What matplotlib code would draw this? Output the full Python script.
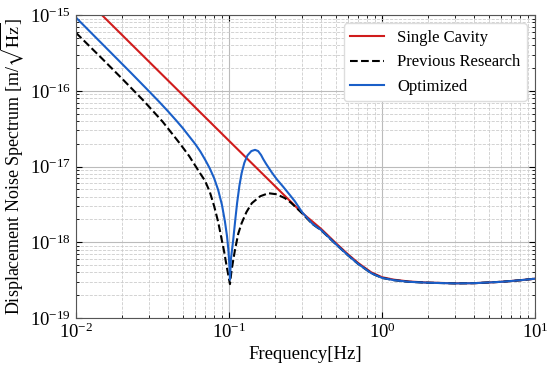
import matplotlib
matplotlib.use("Agg")
import matplotlib.pyplot as plt
from matplotlib.ticker import LogLocator, NullFormatter

plt.rcParams['font.family'] = ['Liberation Serif', 'DejaVu Serif']
plt.rcParams['mathtext.fontset'] = 'stix'

# values
f_single = [0.01, 0.0148, 0.03, 0.1, 0.2, 0.3, 0.4, 0.5, 0.6, 0.7, 0.85, 1.0,
            1.2, 1.5, 2.0, 3.0, 4.0, 6.0, 8.0, 10.0]
x_single = [2.19e-15, 1.0e-15, 2.43e-16, 2.19e-17, 5.5e-18, 2.45e-18, 1.5e-18,
            9.7e-19, 6.9e-19, 5.3e-19, 4.0e-19, 3.45e-19, 3.2e-19, 3.03e-19,
            2.93e-19, 2.87e-19, 2.88e-19, 3.0e-19, 3.15e-19, 3.3e-19]

f_prev = [0.01, 0.015, 0.02, 0.0275, 0.0369, 0.0479, 0.055, 0.0646, 0.0697,
          0.075, 0.08, 0.085, 0.0895, 0.093, 0.0966, 0.1015, 0.104, 0.1094,
          0.115, 0.121, 0.13, 0.141, 0.16, 0.181, 0.205, 0.232, 0.255, 0.277,
          0.3, 0.322, 0.35, 0.4, 0.5, 0.6, 0.7, 0.85, 1.0, 1.2, 1.5, 2.0, 3.0,
          4.0, 6.0, 8.0, 10.0]
x_prev = [5.85e-16, 2.6e-16, 1.45e-16, 7.5e-17, 3.9e-17, 2.0e-17, 1.37e-17,
          8.2e-18, 6.5e-18, 4.6e-18, 3.0e-18, 1.85e-18, 1.1e-18, 7.5e-19,
          4.8e-19, 2.8e-19, 4.3e-19, 7.9e-19, 1.3e-18, 1.79e-18, 2.5e-18,
          3.28e-18, 4.05e-18, 4.44e-18, 4.3e-18, 3.82e-18, 3.3e-18, 2.82e-18,
          2.42e-18, 2.08e-18, 1.75e-18, 1.44e-18, 9.4e-19, 6.7e-19, 5.15e-19,
          3.9e-19, 3.38e-19, 3.15e-19, 3.0e-19, 2.92e-19, 2.86e-19, 2.88e-19,
          3.0e-19, 3.15e-19, 3.3e-19]

f_opt = [0.01, 0.0225, 0.0294, 0.035, 0.04, 0.045, 0.05, 0.055, 0.06, 0.065,
         0.07, 0.075, 0.08, 0.085, 0.09, 0.094, 0.097, 0.099, 0.1005, 0.1015,
         0.103, 0.1067, 0.110, 0.113, 0.117, 0.121, 0.126, 0.132, 0.14, 0.148,
         0.155, 0.162, 0.1675, 0.175, 0.19, 0.205, 0.226, 0.25, 0.27, 0.3,
         0.322, 0.35, 0.4, 0.5, 0.6, 0.7, 0.85, 1.0, 1.2, 1.5, 2.0, 3.0, 4.0,
         6.0, 8.0, 10.0]
x_opt = [9.3e-16, 1.79e-16, 1.03e-16, 7.15e-17, 5.35e-17, 4.1e-17, 3.2e-17,
         2.5e-17, 2.0e-17, 1.58e-17, 1.22e-17, 9.4e-18, 7.0e-18, 4.9e-18,
         3.1e-18, 1.9e-18, 1.22e-18, 8.1e-19, 5.2e-19, 3.2e-19, 6.0e-19,
         1.1e-18, 2.0e-18, 3.3e-18, 5.6e-18, 8.2e-18, 1.12e-17, 1.4e-17,
         1.6e-17, 1.66e-17, 1.6e-17, 1.42e-17, 1.25e-17, 1.08e-17, 8.4e-18,
         6.8e-18, 5.4e-18, 4.2e-18, 3.45e-18, 2.5e-18, 2.13e-18, 1.76e-18,
         1.45e-18, 9.4e-19, 6.7e-19, 5.15e-19, 3.9e-19, 3.38e-19, 3.15e-19,
         3.0e-19, 2.92e-19, 2.86e-19, 2.88e-19, 3.0e-19, 3.15e-19, 3.3e-19]

fig = plt.figure(figsize=(5.5, 3.68), dpi=100)
ax = fig.add_axes([0.138, 0.136, 0.835, 0.823])

ax.loglog(f_single, x_single, color='#d01c1c', lw=1.5, label='Single Cavity')
ax.loglog(f_prev, x_prev, color='black', lw=1.5, ls='--', label='Previous Research')
ax.loglog(f_opt, x_opt, color='#1a5fc8', lw=1.5, label='Optimized')

ax.set_xlim(1e-2, 1e1)
ax.set_ylim(1e-19, 1e-15)
ax.set_xlabel('Frequency[Hz]', fontsize=13.5, labelpad=3)
ax.set_ylabel(r'Displacement Noise Spectrum [m/$\sqrt{\mathrm{Hz}}$]', fontsize=13)
ax.yaxis.set_label_coords(-0.108, 0.5)

ax.xaxis.set_minor_locator(LogLocator(base=10, subs=range(2, 10), numticks=20))
ax.yaxis.set_minor_locator(LogLocator(base=10, subs=range(2, 10), numticks=20))
ax.xaxis.set_minor_formatter(NullFormatter())
ax.yaxis.set_minor_formatter(NullFormatter())
ax.tick_params(which='both', direction='in', top=True, right=True, labelsize=13.5)
ax.tick_params(which='major', length=4)
ax.tick_params(which='minor', length=2)

ax.grid(which='major', color='#bbbbbb', ls='-', lw=0.8)
ax.grid(which='minor', color='#cccccc', ls='--', lw=0.6)
for sp in ax.spines.values():
    sp.set_color('#555555')

ax.legend(loc='upper right', fontsize=12, framealpha=1, edgecolor='#dddddd',
          handlelength=2.0)

fig.savefig('out.png', dpi=100)
